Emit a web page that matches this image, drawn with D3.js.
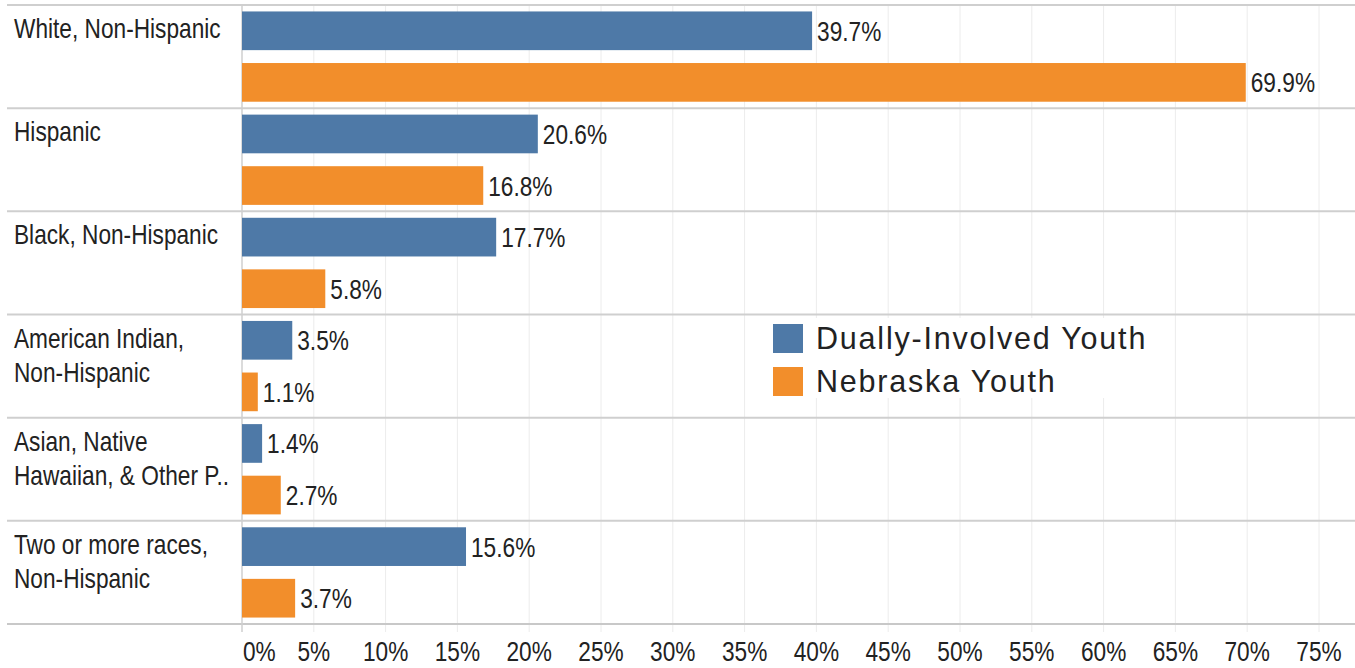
<!DOCTYPE html>
<html><head><meta charset="utf-8">
<script src="https://cdn.jsdelivr.net/npm/d3@7"></script>
<style>
html,body{margin:0;padding:0;background:#fff;}
svg{display:block;}
text{font-family:"Liberation Sans",Arial,sans-serif;}
</style></head>
<body>
<svg id="chart" width="1355" height="668"></svg>
<script>
const categories = ["White, Non-Hispanic","Hispanic","Black, Non-Hispanic","American Indian, Non-Hispanic","Asian, Native Hawaiian, & Other P..","Two or more races, Non-Hispanic"];
const categoryLines = [["White, Non-Hispanic"],["Hispanic"],["Black, Non-Hispanic"],["American Indian,","Non-Hispanic"],["Asian, Native","Hawaiian, & Other P.."],["Two or more races,","Non-Hispanic"]];
const seriesNames = ["Dually-Involved Youth","Nebraska Youth"];
const duallyValues = [39.7,20.6,17.7,3.5,1.4,15.6];
const nebraskaValues = [69.9,16.8,5.8,1.1,2.7,3.7];
const tickValues = [0,5,10,15,20,25,30,35,40,45,50,55,60,65,70,75];
const colors = ["#4e79a7","#f28e2b"];
const SX = 0.84;

const svg = d3.select("#chart");
const x = d3.scaleLinear().domain([0,75]).range([242,1319]);
const y = d3.scaleBand().domain(categories).range([5,624]).padding(0);
const ys = d3.scaleBand().domain(seriesNames).range([0,y.bandwidth()]).paddingInner(0.25).paddingOuter(0.125);

// grid lines
svg.append("g").selectAll("line").data(tickValues.slice(1)).join("line")
  .attr("x1",d=>x(d)).attr("x2",d=>x(d)).attr("y1",5).attr("y2",632)
  .attr("stroke","#ececec").attr("stroke-width",1);

// row separators
svg.append("g").selectAll("line").data(categories).join("line")
  .attr("x1",7).attr("x2",1355).attr("y1",d=>y(d)).attr("y2",d=>y(d))
  .attr("stroke","#cfcfcf").attr("stroke-width",2);
svg.append("line").attr("x1",7).attr("x2",1355).attr("y1",624).attr("y2",624)
  .attr("stroke","#c8c8c8").attr("stroke-width",2);
// zero axis
svg.append("line").attr("x1",x(0)).attr("x2",x(0)).attr("y1",5).attr("y2",632)
  .attr("stroke","#cfcfcf").attr("stroke-width",1.5);

const rows = categories.map((c,i)=>({c, vals:[duallyValues[i],nebraskaValues[i]], lines:categoryLines[i]}));
const g = svg.append("g").selectAll("g").data(rows).join("g")
  .attr("transform",d=>`translate(0,${y(d.c)})`);

g.selectAll("rect").data(d=>d.vals.map((v,j)=>({v,s:seriesNames[j],j}))).join("rect")
  .attr("x",x(0)).attr("y",d=>ys(d.s)).attr("width",d=>x(d.v)-x(0)).attr("height",ys.bandwidth())
  .attr("fill",d=>colors[d.j]);

g.selectAll("text.val").data(d=>d.vals.map((v,j)=>({v,s:seriesNames[j],j}))).join("text")
  .attr("class","val")
  .attr("transform",d=>`translate(${x(d.v)+5},${ys(d.s)+ys.bandwidth()/2+10}) scale(${SX},1)`)
  .attr("font-size",27).attr("fill","#222")
  .text(d=>d.v.toFixed(1)+"%");

g.selectAll("text.cat").data(d=>d.lines).join("text").attr("class","cat")
  .attr("transform",(d,i)=>`translate(14,${33+i*34.5}) scale(${SX},1)`)
  .attr("font-size",27).attr("fill","#222").text(d=>d);

// tick labels
svg.append("g").selectAll("text").data(tickValues).join("text")
  .attr("transform",d=>`translate(${d===0?x(d)+1:x(d)},661) scale(${SX},1)`)
  .attr("text-anchor",d=>d===0?"start":"middle")
  .attr("font-size",27).attr("fill","#222")
  .text(d=>d+"%");

// legend
const lg = svg.append("g");
lg.append("rect").attr("x",765).attr("y",318).attr("width",400).attr("height",80).attr("fill","#fff");
seriesNames.forEach((s,i)=>{
  lg.append("rect").attr("x",773).attr("y",324+i*43).attr("width",30).attr("height",29).attr("fill",colors[i]);
  lg.append("text").attr("x",816).attr("y",349+i*43)
    .attr("font-size",30.5).attr("letter-spacing",1.8).attr("fill","#222").text(s);
});
</script>
</body></html>
